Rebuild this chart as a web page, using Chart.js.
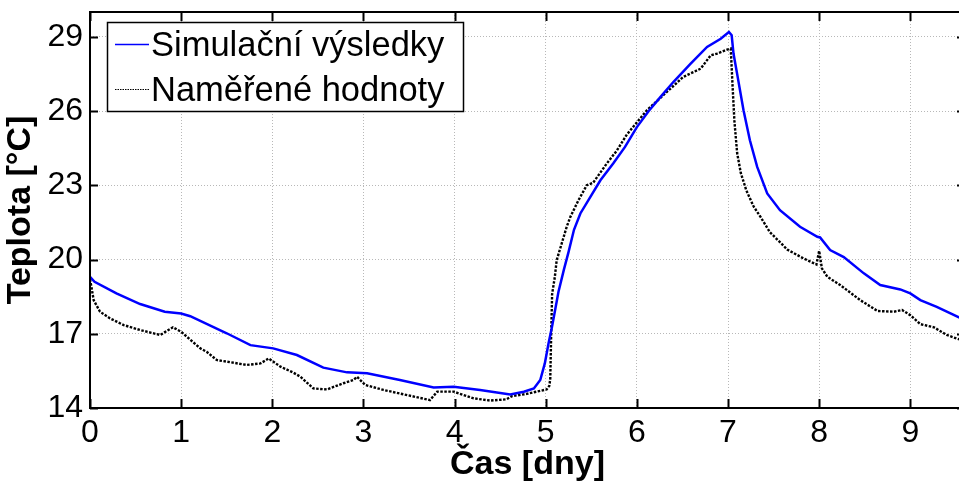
<!DOCTYPE html>
<html>
<head>
<meta charset="utf-8">
<script src="https://cdn.jsdelivr.net/npm/chart.js@4.4.1/dist/chart.umd.min.js"></script>
<style>
html,body{margin:0;padding:0;background:#fff;overflow:hidden;width:959px;height:482px;}
canvas{display:block;}
</style>
</head>
<body>
<canvas id="c" width="966" height="482"></canvas>
<script>
// ---- data (days, °C) ----
const seriesNames = ['Simulační výsledky', 'Naměřené hodnoty'];
const xTicks = [0,1,2,3,4,5,6,7,8,9];
const yTicks = [14,17,20,23,26,29];

const simDays  = [0.00,0.05,0.29,0.55,0.82,1.00,1.10,1.50,1.76,2.01,2.27,2.56,2.82,3.04,3.40,3.77,3.99,4.28,4.61,4.76,4.87,4.94,4.99,5.03,5.07,5.10,5.14,5.20,5.25,5.31,5.38,5.49,5.60,5.74,5.87,6.00,6.13,6.26,6.40,6.59,6.77,6.92,7.01,7.04,7.06,7.10,7.17,7.24,7.32,7.43,7.57,7.79,7.98,8.01,8.12,8.27,8.49,8.67,8.89,9.00,9.11,9.29,9.54,9.60];
const simTemps = [19.30,19.10,18.63,18.20,17.89,17.82,17.71,17.02,16.54,16.41,16.14,15.63,15.44,15.40,15.13,14.83,14.86,14.73,14.55,14.66,14.79,15.13,15.80,16.60,17.30,17.90,18.70,19.60,20.30,21.20,21.86,22.53,23.20,23.88,24.55,25.35,26.00,26.57,27.17,27.91,28.59,28.92,29.19,29.06,28.32,27.50,26.03,24.82,23.74,22.67,21.99,21.32,20.92,20.89,20.38,20.10,19.44,18.97,18.79,18.63,18.36,18.09,17.65,17.55];

const measDays  = [0.00,0.02,0.04,0.11,0.22,0.37,0.55,0.77,0.91,1.00,1.21,1.28,1.39,1.72,1.87,1.96,2.09,2.23,2.31,2.45,2.60,2.78,2.89,2.93,3.02,3.22,3.48,3.73,3.81,3.99,4.21,4.39,4.57,4.63,4.79,5.01,5.04,5.05,5.06,5.07,5.10,5.12,5.16,5.23,5.27,5.36,5.45,5.52,5.67,5.78,5.89,6.11,6.29,6.51,6.70,6.81,6.88,6.99,7.03,7.05,7.07,7.10,7.14,7.20,7.28,7.36,7.46,7.57,7.65,7.83,7.97,8.00,8.03,8.09,8.23,8.45,8.64,8.82,8.91,9.00,9.11,9.26,9.40,9.54,9.60];
const measTemps = [19.20,18.80,18.36,17.89,17.62,17.35,17.15,16.95,17.26,17.08,16.41,16.27,15.94,15.74,15.80,16.00,15.67,15.43,15.26,14.79,14.75,15.00,15.13,15.26,14.93,14.73,14.52,14.32,14.66,14.66,14.39,14.30,14.35,14.48,14.57,14.75,14.90,15.20,17.00,18.60,19.30,19.97,20.46,21.32,21.72,22.40,23.00,23.10,23.88,24.40,25.05,26.03,26.64,27.38,27.71,28.25,28.32,28.48,28.52,27.00,25.60,24.30,23.50,22.80,22.15,21.70,21.10,20.70,20.40,20.04,19.80,20.35,19.64,19.30,18.97,18.36,17.92,17.89,17.96,17.75,17.39,17.26,16.95,16.77,16.72];

const toXY = (xs, ys) => xs.map((x, i) => ({x: x, y: ys[i]}));

Chart.defaults.font.family = '"Liberation Sans", Arial, sans-serif';
Chart.defaults.color = '#000';

const framePlugin = {
  id: 'frame',
  afterDatasetsDraw(chart) {
    const {ctx, chartArea: a, scales} = chart;
    ctx.save();
    ctx.strokeStyle = '#000';
    ctx.lineWidth = 2;
    ctx.beginPath();
    xTicks.forEach(v => {
      const px = Math.round(scales.x.getPixelForValue(v)) + 0.5;
      ctx.moveTo(px, a.bottom); ctx.lineTo(px, a.bottom - 9);
      ctx.moveTo(px, a.top); ctx.lineTo(px, a.top + 9);
    });
    yTicks.forEach(v => {
      const py = Math.round(scales.y.getPixelForValue(v)) + 0.5;
      ctx.moveTo(a.left, py); ctx.lineTo(a.left + 8, py);
      ctx.moveTo(a.right, py); ctx.lineTo(a.right - 8, py);
    });
    ctx.stroke();
    ctx.strokeRect(a.left, a.top, a.right - a.left, a.bottom - a.top);
    ctx.restore();
  },
  afterDraw(chart) {
    const {ctx} = chart;
    const ds = chart.data.datasets;
    ctx.save();
    ctx.fillStyle = '#fff';
    ctx.fillRect(107, 22, 356, 89);
    ctx.strokeStyle = '#000';
    ctx.lineWidth = 1.5;
    ctx.strokeRect(107.5, 22.5, 356, 89);
    const rows = [44, 89];
    ctx.font = '34.5px "Liberation Sans", Arial, sans-serif';
    ctx.textBaseline = 'middle';
    ctx.textAlign = 'left';
    rows.forEach((y, i) => {
      const d = ds[i];
      ctx.beginPath();
      ctx.strokeStyle = d.borderColor;
      ctx.lineWidth = i === 0 ? 1.5 : 1.2;
      ctx.setLineDash(i === 0 ? [] : [1.5, 1]);
      ctx.moveTo(115, y + 0.5); ctx.lineTo(149, y + 0.5);
      ctx.stroke();
      ctx.setLineDash([]);
      ctx.fillStyle = '#000';
      ctx.fillText(d.label, 151, y + 2);
    });
    ctx.restore();
  }
};

new Chart(document.getElementById('c'), {
  type: 'line',
  data: {
    datasets: [
      { label: seriesNames[0], data: toXY(simDays, simTemps), borderColor: '#0000ff', borderWidth: 2.5, pointRadius: 0, tension: 0, fill: false },
      { label: seriesNames[1], data: toXY(measDays, measTemps), borderColor: '#000000', borderWidth: 2.4, borderDash: [2.5, 1.5], pointRadius: 0, tension: 0, fill: false }
    ]
  },
  options: {
    responsive: false,
    animation: false,
    events: [],
    layout: { padding: { top: 12, right: 1, left: 0, bottom: 0 } },
    plugins: { legend: { display: false }, tooltip: { enabled: false } },
    scales: {
      x: {
        type: 'linear', position: 'bottom', min: 0, max: 9.6,
        afterBuildTicks: s => { s.ticks = xTicks.map(v => ({value: v})); },
        afterFit: s => { s.height = 74; s.paddingLeft = 0; s.paddingRight = 0; },
        ticks: { font: { size: 32 }, color: '#000', padding: 6, maxRotation: 0, autoSkip: false },
        grid: { color: '#b8b8b8', lineWidth: 1, drawTicks: false },
        border: { display: false, dash: [1, 2] },
        title: { display: true, text: 'Čas [dny]', color: '#000', font: { size: 34, weight: 'bold', lineHeight: 1 }, padding: { top: 0, bottom: 0 } }
      },
      y: {
        type: 'linear', position: 'left', min: 14, max: 30,
        afterBuildTicks: s => { s.ticks = yTicks.map(v => ({value: v})); },
        afterFit: s => { s.width = 90; s.paddingTop = 0; s.paddingBottom = 0; },
        ticks: { font: { size: 32 }, color: '#000', padding: 7, autoSkip: false },
        grid: { color: '#b8b8b8', lineWidth: 1, drawTicks: false },
        border: { display: false, dash: [1, 2] },
        title: { display: true, text: 'Teplota [°C]', color: '#000', font: { size: 34, weight: 'bold', lineHeight: 1 }, padding: { top: 4, bottom: 0 } }
      }
    }
  },
  plugins: [framePlugin]
});
</script>
</body>
</html>
